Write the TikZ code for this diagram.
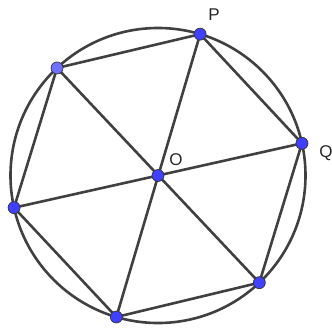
\documentclass[tikz,border=0pt]{standalone}
\usepackage{fontspec}
\setmainfont{Liberation Sans}
\usetikzlibrary{calc}
\definecolor{edgegray}{HTML}{404040}
\definecolor{ptblue}{HTML}{4040FF}
\definecolor{ptlight}{HTML}{7070FF}
\begin{document}
\begin{tikzpicture}[x=1pt,y=-1pt,
  seg/.style={draw=edgegray,line width=2.6pt},
  pt/.style={circle,fill=ptblue,draw=black!80,line width=0.7pt,inner sep=0pt,minimum size=12pt},
  ptl/.style={pt,fill=ptlight},
  lbl/.style={font=\fontsize{17}{19}\selectfont,text=black!85,inner sep=0pt}]
\useasboundingbox (0,0) rectangle (332,327);
\coordinate (c) at (158,175.5);
\draw[seg] (c) circle[radius=147.5];
\coordinate (q) at ($(c)+(-12.6:147.5)$);
\coordinate (p) at ($(c)+(-73.4:147.5)$);
\coordinate (a) at ($(c)+(-133.2:147.5)$);
\coordinate (b) at ($(c)+(-192.6:147.5)$);
\coordinate (cc) at ($(c)+(-253.6:147.5)$);
\coordinate (d) at ($(c)+(-313.4:147.5)$);
\draw[seg,line join=round] (a) -- (p) -- (q) -- (d) -- (cc) -- (b) -- cycle;
\draw[seg] (a) -- (d);
\draw[seg] (p) -- (cc);
\draw[seg] (q) -- (b);
\node[pt] (O) at (c) {};
\node[pt] (P) at (p) {};
\node[pt] (Q) at (q) {};
\node[ptl] (A) at (a) {};
\node[pt] (B) at (b) {};
\node[pt] (C) at (cc) {};
\node[pt] (D) at (d) {};
\node[lbl] (lP) at (214,15) {P};
\node[lbl] (lQ) at (326,153) {Q};
\node[lbl] (lO) at (176,160) {O};
\end{tikzpicture}
\end{document}
